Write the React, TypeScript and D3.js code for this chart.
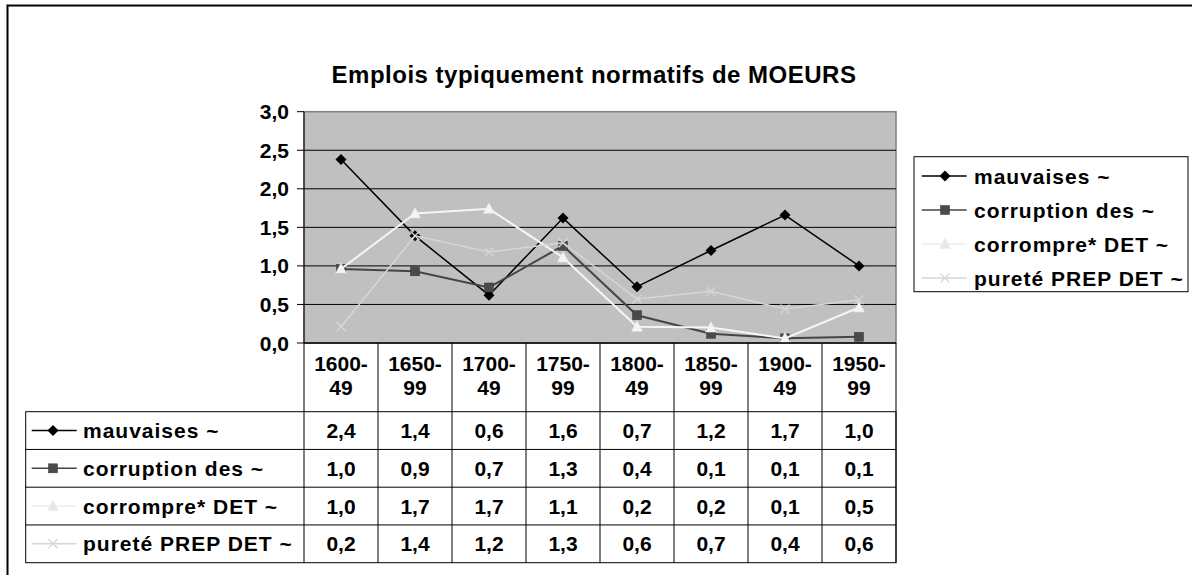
import React from "react";
import * as d3 from "d3";

// periods (two-line headers in the data table)
const periodTop = ["1600-", "1650-", "1700-", "1750-", "1800-", "1850-", "1900-", "1950-"];
const periodBottom = ["49", "99", "49", "99", "49", "99", "49", "99"];
const categories = periodTop.map((t, i) => t + periodBottom[i]);

const seriesNames = ["mauvaises ~", "corruption des ~", "corrompre* DET ~", "pureté PREP DET ~"];
const mauvaises = [2.38, 1.39, 0.62, 1.62, 0.73, 1.2, 1.66, 1.0];
const corruption = [0.96, 0.93, 0.72, 1.26, 0.36, 0.12, 0.06, 0.08];
const corrompre = [0.96, 1.68, 1.74, 1.11, 0.21, 0.2, 0.06, 0.46];
const purete = [0.21, 1.39, 1.18, 1.3, 0.57, 0.67, 0.44, 0.56];
const yTicks = [0, 0.5, 1, 1.5, 2, 2.5, 3];

const title = "Emplois typiquement normatifs de MOEURS";

const styles = [
  { stroke: "#000000", width: 1.5, marker: "diamond", fill: "#000000", mstroke: "#000000" },
  { stroke: "#454545", width: 2, marker: "square", fill: "#4a4a4a", mstroke: "#4a4a4a" },
  { stroke: "#f6f6f6", width: 2, marker: "triangle", fill: "#f4f4f4", mstroke: "#e6e6e6" },
  { stroke: "#d6d6d6", width: 1.5, marker: "cross", fill: "none", mstroke: "#d6d6d6" },
];

const fr = d3.formatLocale({ decimal: ",", thousands: " ", grouping: [3], currency: ["", " €"] });
const fmt = fr.format(".1f");

const FONT = "'Liberation Sans', Arial, sans-serif";
const FS = 21;

function Marker({ kind, x, y, s }: { kind: string; x: number; y: number; s: any }) {
  if (kind === "diamond")
    return <path d={`M${x},${y - 5.5}L${x + 5.5},${y}L${x},${y + 5.5}L${x - 5.5},${y}Z`} fill={s.fill} />;
  if (kind === "square")
    return <rect x={x - 4.5} y={y - 4.5} width={9} height={9} fill={s.fill} stroke="#333" strokeWidth={0.5} />;
  if (kind === "triangle")
    return <path d={`M${x},${y - 6}L${x + 5.5},${y + 4.5}L${x - 5.5},${y + 4.5}Z`} fill={s.fill} stroke={s.mstroke} strokeWidth={0.5} />;
  return (
    <path d={`M${x - 4.5},${y - 4.5}L${x + 4.5},${y + 4.5}M${x + 4.5},${y - 4.5}L${x - 4.5},${y + 4.5}`} stroke={s.mstroke} strokeWidth={1.3} />
  );
}

export default function App() {
  const series = [mauvaises, corruption, corrompre, purete];
  const plotLeft = 304, plotRight = 896, plotTop = 111.7, plotBottom = 343;
  const x = d3.scaleBand().domain(categories).range([plotLeft, plotRight]).padding(0);
  const cx = (c: string) => (x(c) as number) + x.bandwidth() / 2;
  const y = d3.scaleLinear().domain([0, 3]).range([plotBottom, plotTop]);
  const line = d3.line<number>().x((_, i) => cx(categories[i])).y((d) => y(d));

  const tableLeft = 25.7, headerBottom = 411.7, rowH = 37.75;
  const legendX = 914, legendY = 156.7, legendW = 274, legendH = 135;
  const legendStyle = (si: number) =>
    si === 2 ? { ...styles[si], fill: "#e8e8e8", mstroke: "#e8e8e8" } : styles[si];

  return (
    <svg width={1192} height={575} style={{ position: "absolute", left: 0, top: 0, fontFamily: FONT }}>
      <rect x={0} y={0} width={1192} height={575} fill="#fff" />
      {/* chart frame */}
      <rect x={7.5} y={5.5} width={1200} height={600} fill="#fff" stroke="#000" strokeWidth={2} />
      <line x1={6.5} y1={4.5} x2={1192} y2={4.5} stroke="#888" strokeWidth={1} />
      <text x={594} y={83} textAnchor="middle" fontWeight="bold" fontSize={24} letterSpacing={0.5}>{title}</text>

      {/* plot area */}
      <rect x={plotLeft} y={plotTop} width={plotRight - plotLeft} height={plotBottom - plotTop} fill="#c0c0c0" stroke="#808080" strokeWidth={1.5} />
      {yTicks.map((t) => (
        <g key={t}>
          {t > 0 && t < 3 && <line x1={plotLeft} x2={plotRight} y1={y(t)} y2={y(t)} stroke="#000" strokeWidth={1} />}
          <line x1={plotLeft - 7} x2={plotLeft} y1={y(t)} y2={y(t)} stroke="#000" strokeWidth={1} />
          <text x={289} y={y(t) + 7.5} textAnchor="end" fontWeight="bold" fontSize={FS}>{fmt(t)}</text>
        </g>
      ))}
      <line x1={plotLeft} x2={plotLeft} y1={plotTop} y2={plotBottom} stroke="#000" strokeWidth={1} />

      {series.map((vals, si) => (
        <g key={si}>
          <path d={line(vals) as string} fill="none" stroke={styles[si].stroke} strokeWidth={styles[si].width} />
          {vals.map((v, i) => (
            <Marker key={i} kind={styles[si].marker} x={cx(categories[i])} y={y(v)} s={styles[si]} />
          ))}
        </g>
      ))}

      {/* data table */}
      <line x1={plotLeft} x2={plotRight} y1={plotBottom} y2={plotBottom} stroke="#000" strokeWidth={1.5} />
      {categories.map((c, i) => (
        <g key={c}>
          <line x1={x(c) as number} x2={x(c) as number} y1={plotBottom} y2={headerBottom + rowH * 4} stroke="#000" strokeWidth={1} />
          <text x={cx(c)} y={371} textAnchor="middle" fontWeight="bold" fontSize={FS}>{periodTop[i]}</text>
          <text x={cx(c)} y={395} textAnchor="middle" fontWeight="bold" fontSize={FS}>{periodBottom[i]}</text>
        </g>
      ))}
      <line x1={plotRight} x2={plotRight} y1={plotBottom} y2={headerBottom + rowH * 4} stroke="#000" strokeWidth={1} />
      <rect x={tableLeft} y={headerBottom} width={plotRight - tableLeft} height={rowH * 4} fill="none" stroke="#000" strokeWidth={1} />
      {series.map((vals, si) => {
        const ry = headerBottom + rowH * si;
        const my = ry + rowH / 2;
        return (
          <g key={si}>
            {si > 0 && <line x1={tableLeft} x2={plotRight} y1={ry} y2={ry} stroke="#000" strokeWidth={1} />}
            <line x1={31.7} x2={76.7} y1={my} y2={my} stroke={legendStyle(si).stroke === "#f6f6f6" ? "#eeeeee" : styles[si].stroke} strokeWidth={1.5} />
            <Marker kind={styles[si].marker} x={53} y={my} s={legendStyle(si)} />
            <text x={83} y={my + 7.5} fontWeight="bold" fontSize={FS} letterSpacing={1}>{seriesNames[si]}</text>
            {vals.map((v, i) => (
              <text key={i} x={cx(categories[i])} y={my + 7.5} textAnchor="middle" fontWeight="bold" fontSize={FS}>{fmt(v)}</text>
            ))}
          </g>
        );
      })}

      {/* legend */}
      <rect x={legendX} y={legendY} width={legendW} height={legendH} fill="#fff" stroke="#000" strokeWidth={1} />
      {seriesNames.map((n, si) => {
        const ly = 176 + si * 34;
        return (
          <g key={n}>
            <line x1={921.7} x2={966.7} y1={ly} y2={ly} stroke={si === 2 ? "#eeeeee" : styles[si].stroke} strokeWidth={1.5} />
            <Marker kind={styles[si].marker} x={945} y={ly} s={legendStyle(si)} />
            <text x={974} y={ly + 7.5} fontWeight="bold" fontSize={FS} letterSpacing={1}>{n}</text>
          </g>
        );
      })}
    </svg>
  );
}
